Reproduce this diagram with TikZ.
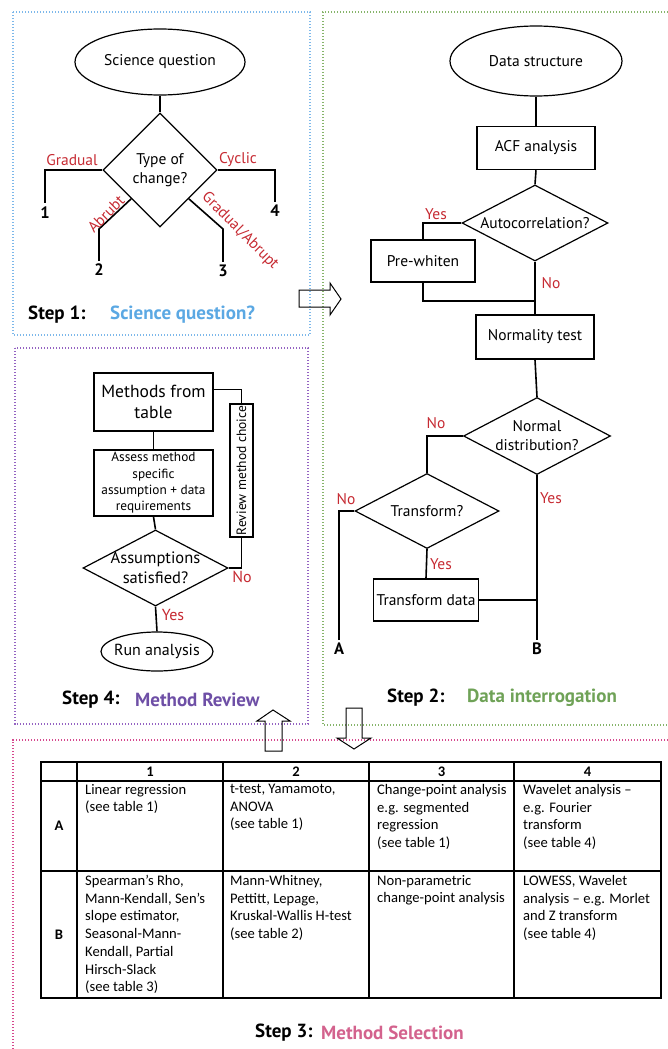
\documentclass[tikz,border=0pt]{standalone}
\usepackage{fontspec}
\setmainfont{PT Sans}
\newfontfamily\tabfont{Carlito}
\usetikzlibrary{shapes.geometric,calc}
\definecolor{redlab}{HTML}{C62A32}
\definecolor{blueT}{HTML}{5BA8E3}
\definecolor{greenT}{HTML}{6FA257}
\definecolor{purpleT}{HTML}{6E4FA6}
\definecolor{pinkT}{HTML}{D3628D}
\definecolor{blueF}{HTML}{7DB8EA}
\definecolor{greenF}{HTML}{86B46A}
\definecolor{purpleF}{HTML}{9463C2}
\definecolor{pinkF}{HTML}{D6488E}
\newcommand{\fsz}[2]{\fontsize{#1}{#2}\selectfont}
\begin{document}
\begin{tikzpicture}[x=1pt,y=-1pt,
  conn/.style={line width=1.6pt, line join=miter},
  frame/.style={line width=1.1pt, dash pattern=on 1.4pt off 1.6pt},
  boxn/.style={draw, line width=1.5pt, inner sep=0pt, align=center, font=\fsz{15.5}{19}},
  dia/.style={draw, diamond, line width=1.2pt, inner sep=0pt},
  ell/.style={draw, ellipse, line width=1.2pt, inner sep=0pt},
  ctext/.style={align=center, inner sep=0pt, font=\fsz{15.5}{19}},
  lab/.style={text=redlab, inner sep=0pt, font=\fsz{15.5}{17}},
  num/.style={inner xsep=0pt, inner ysep=3pt, font=\bfseries\fsz{16.5}{18}},
  ttl/.style={inner sep=0pt, anchor=west, font=\bfseries\fsz{19}{22}},
  blk/.style={line width=1pt, line join=miter},
  cell/.style={anchor=north west, inner sep=0pt, align=left, font=\tabfont\fsz{14.6}{17.7}},
  hd/.style={inner sep=0pt, font=\tabfont\bfseries\fsz{14.6}{16}},
  tline/.style={line width=1.3pt}
]
\useasboundingbox (0,0) rectangle (668,1049);

% ---------- frames ----------
\draw[frame, blueF] (13,12) rectangle (310,335);
\draw[frame, greenF] (668,12) -- (323,12) -- (323,725) -- (668,725);
\draw[frame, purpleF] (15,348) rectangle (308,724);
\draw[frame, pinkF] (668,740) -- (13,740) -- (13,1049);

% ---------- block arrows ----------
\draw[blk] (299,290) -- (330,290) -- (330,283) -- (341,299) -- (330,315) -- (330,307) -- (299,307) -- cycle;
\draw[blk] (265,751) -- (265,721) -- (257,721) -- (273,710) -- (290,721) -- (282,721) -- (282,751) -- cycle;
\draw[blk] (346,708) -- (362,708) -- (362,738) -- (371,738) -- (354,749) -- (337,738) -- (346,738) -- cycle;

% ---------- Step 1 ----------
\node[ell, minimum width=170, minimum height=66, label={[ctext]center:Science question}] (sq) at (160,62) {};
\node[dia, minimum width=114, minimum height=114, label={[ctext]center:Type of\\change?}] (tc) at (160,170) {};
\node[num] (n1) at (45,212.5) {1};
\node[num] (n4) at (275,211) {4};
\node[num] (n2) at (99,270) {2};
\node[num] (n3) at (223,271) {3};
\coordinate (c2) at (99,229);
\coordinate (c3) at (223,229);
\draw[conn] (sq.south) -- (tc.north);
\draw[conn] (tc.west) -| (n1.north);
\draw[conn] (tc.east) -| (n4.north);
\draw[conn] (tc.south west) -- (c2) -- (n2.north);
\draw[conn] (tc.south east) -- (c3) -- (n3.north);
\node[lab] (lg) at (72,160) {Gradual};
\node[lab] (lc) at (238,160) {Cyclic};
\node[lab, rotate=45] (la) at (106,214) {Abrubt};
\node[lab, rotate=-45] (lga) at (240,231) {Gradual/Abrupt};
\node[ttl] (t1a) at (28,315) {Step 1:};
\node[ttl, text=blueT] (t1b) at (110,315) {Science question?};

% ---------- Step 2 ----------
\node[ell, minimum width=172, minimum height=70, label={[ctext]center:Data structure}] (ds) at (536,61) {};
\node[boxn, minimum width=118, minimum height=43] (acf) at (536,148) {ACF analysis};
\node[dia, minimum width=146, minimum height=76, label={[ctext]center:Autocorrelation?}] (ac) at (535,223) {};
\node[boxn, minimum width=104, minimum height=42] (pw) at (423,261) {Pre-whiten};
\coordinate (j1) at (535,301);
\node[boxn, minimum width=118, minimum height=44] (nt) at (535,337) {Normality test};
\node[dia, minimum width=147, minimum height=77, label={[ctext]center:Normal\\distribution?}] (nd) at (537,436) {};
\node[dia, minimum width=144, minimum height=75, label={[ctext]center:Transform?}] (tr) at (427,511) {};
\node[boxn, minimum width=105, minimum height=42] (td) at (426,600) {Transform data};
\node[num] (nA) at (339,649) {A};
\node[num] (nB) at (537,649) {B};
\draw[conn] (ds.south) -- (acf.north);
\draw[conn] (acf.south) -- (ac.north);
\draw[conn] (ac.west) -| (pw.north);
\draw[conn] (pw.south) |- (j1);
\draw[conn] (ac.south) -- (nt.north);
\draw[conn] (nt.south) -- (nd.north);
\draw[conn] (nd.west) -| (tr.north);
\draw[conn] (tr.west) -| (nA.north);
\draw[conn] (tr.south) -- (td.north);
\draw[conn] (nd.south) -- (nB.north);
\draw[conn] (td.east) -- (td.east -| nB.north);
\node[lab] (y1) at (436,214) {Yes};
\node[lab] (no1) at (551,283) {No};
\node[lab] (no2) at (436,423) {No};
\node[lab] (no3) at (346,499) {No};
\node[lab] (y2) at (441,564) {Yes};
\node[lab] (y3) at (551,498) {Yes};
\node[ttl] (t2a) at (387,698) {Step 2:};
\node[ttl, text=greenT] (t2b) at (467,698) {Data interrogation};

% ---------- Step 4 ----------
\node[boxn, minimum width=119, minimum height=58, font=\fsz{17.5}{21}] (mt) at (153.5,402) {Methods from\\table};
\node[boxn, minimum width=119, minimum height=66, font=\fsz{13.3}{16.3}] (as) at (153.5,483) {Assess method\\specific\\assumption + data\\requirements};
\node[dia, minimum width=145, minimum height=76, label={[ctext, font=\fsz{16.5}{20}]center:Assumptions\\satisfied?}] (am) at (155.5,568) {};
\node[ell, minimum width=112, minimum height=39, label={[ctext, font=\fsz{16}{18}]center:Run analysis}] (ra) at (157,651.5) {};
\node[boxn, minimum width=133, minimum height=23, rotate=90, font=\fsz{13.5}{15}] (rv) at (241.5,470.5) {Review method choice};
\coordinate (mtr) at ($(mt.north east)!0.29!(mt.south east)$);
\draw[conn] (mt.south) -- (as.north);
\draw[conn] (as.south) -- (am.north);
\draw[conn] (am.south) -- (ra.north);
\draw[conn] (am.east) -| (rv.west);
\draw[conn] (rv.east) |- (mtr);
\node[lab, font=\fsz{16}{18}] (y4) at (173,615) {Yes};
\node[lab, font=\fsz{16}{18}] (no4) at (242,577) {No};
\node[ttl] (t4a) at (62,700) {Step 4:};
\node[ttl, text=purpleT] (t4b) at (135,700) {Method Review};

% ---------- Step 3 table ----------
\draw[tline] (41,762) rectangle (661,998);
\foreach \cx in {77,223,369,514} \draw[tline] (\cx,762) -- (\cx,998);
\foreach \ry in {781,871} \draw[tline] (41,\ry) -- (661,\ry);
\node[hd] (h1) at (150,771.5) {1};
\node[hd] (h2) at (296,771.5) {2};
\node[hd] (h3) at (441.5,771.5) {3};
\node[hd] (h4) at (587.5,771.5) {4};
\node[hd] (rA) at (59,826) {A};
\node[hd] (rB) at (59,934.5) {B};
\node[cell] (a1) at (85,784) {Linear regression\\(see table 1)};
\node[cell] (a2) at (230,784) {t-test, Yamamoto,\\ANOVA\\(see table 1)};
\node[cell] (a3) at (377,784) {Change-point analysis\\e.g. segmented\\regression\\(see table 1)};
\node[cell] (a4) at (523,784) {Wavelet analysis –\\e.g. Fourier\\transform\\(see table 4)};
\node[cell] (b1) at (85,875) {Spearman’s Rho,\\Mann-Kendall, Sen’s\\slope estimator,\\Seasonal-Mann-\\Kendall, Partial\\Hirsch-Slack\\(see table 3)};
\node[cell] (b2) at (230,875) {Mann-Whitney,\\Pettitt, Lepage,\\Kruskal-Wallis H-test\\(see table 2)};
\node[cell] (b3) at (377,875) {Non-parametric\\change-point analysis};
\node[cell] (b4) at (523,875) {LOWESS, Wavelet\\analysis – e.g. Morlet\\and Z transform\\(see table 4)};
\node[ttl] (t3a) at (255,1033) {Step 3:};
\node[ttl, text=pinkT] (t3b) at (321,1033) {Method Selection};
\end{tikzpicture}
\end{document}
